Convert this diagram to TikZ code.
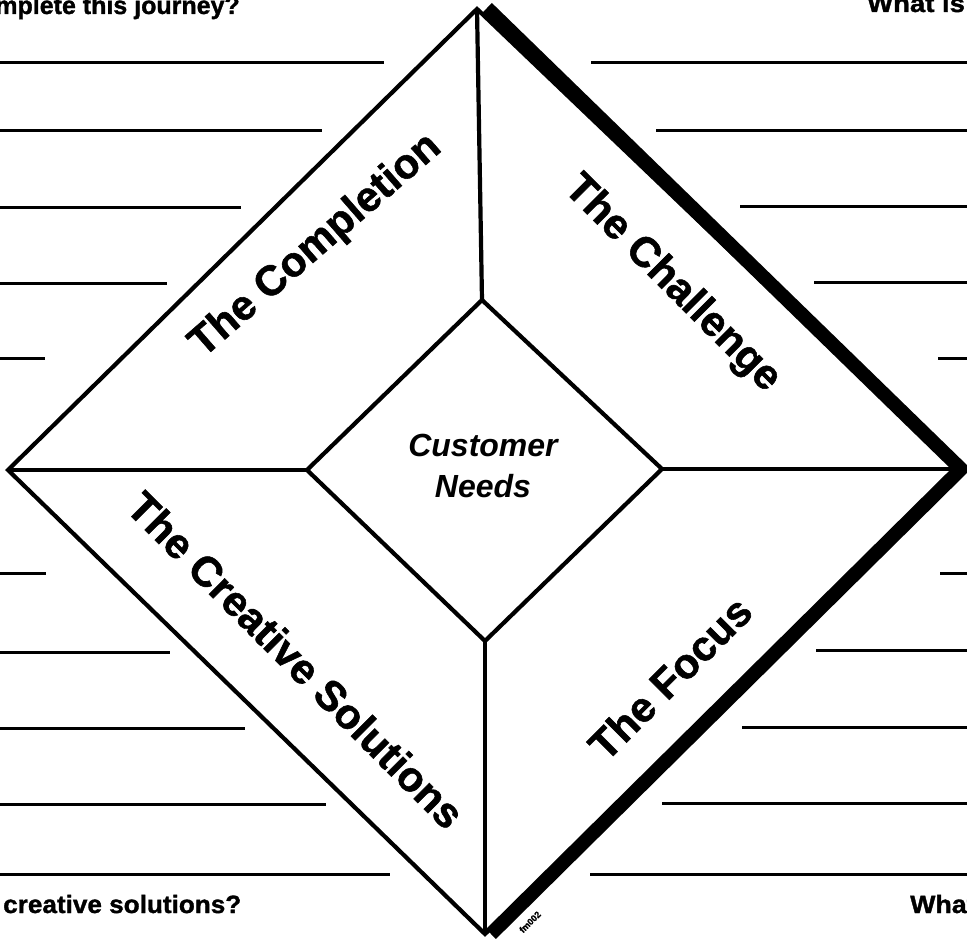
\documentclass[tikz,border=0pt]{standalone}
\usepackage{fontspec}
\usepackage{graphicx}
\setmainfont{Liberation Sans}
\newfontfamily\heavyfont[BoldFeatures={FakeBold=1.3}]{Liberation Sans}
\begin{document}
\begin{tikzpicture}[x=1pt,y=-1pt,
  thinedge/.style={line width=4.2pt, line join=miter},
  heavyedge/.style={line width=14pt, line join=miter},
  wline/.style={line width=3pt},
  quad/.style={font=\heavyfont\bfseries\fontsize{42}{42}\selectfont, inner sep=0pt},
  question/.style={font=\heavyfont\bfseries\fontsize{25}{25}\selectfont, inner sep=0pt},
]
\useasboundingbox (0,0) rectangle (967,941);
% outer diamond
\coordinate (OT) at (477,9);
\coordinate (OR) at (958,469);
\coordinate (OB) at (485,934);
\coordinate (OL) at (8,470);
% heavy shadow edge
\coordinate (HT) at (487,8);
\coordinate (HR) at (961,469);
\coordinate (HB) at (491,934);
% inner diamond
\coordinate (IT) at (482,300);
\coordinate (IR) at (662,469);
\coordinate (IB) at (485,641);
\coordinate (IL) at (307,470);

\draw[heavyedge] (HT) -- (HR) -- (HB);
\draw[thinedge] (OT) -- (OR) -- (OB) -- (OL) -- cycle;
\draw[thinedge] (IT) -- (IR) -- (IB) -- (IL) -- cycle;
\draw[thinedge] (OT) -- (IT);
\draw[thinedge] (OB) -- (IB);
\draw[thinedge] (OL) -- (IL);
\draw[thinedge] (OR) -- (IR);

% writing lines, left
\foreach \y/\x in {63/384,131/322,208/241,284/167,359/45,573/46,652/170,728/245,804/326,874/390}
  \draw[wline] (0,\y) -- (\x,\y);
% writing lines, right
\foreach \y/\x in {63/591,131/656,207/740,283/814,359/938,573/940,650/816,727/742,803/662,874/590}
  \draw[wline] (\x,\y) -- (967,\y);

% quadrant labels
\node[quad, rotate=41] (completion) at (316,246) {The Completion};
\node[quad, rotate=-45] (challenge) at (672,284) {The Challenge};
\node[quad, rotate=-45] (creative) at (296,660) {The Creative Solutions};
\node[quad, rotate=45] (focus) at (670,678) {The Focus};
\node[font=\heavyfont\bfseries\itshape\fontsize{32}{41}\selectfont, align=center, inner sep=0pt] (needs) at (483,466) {Customer\\Needs};

% questions (cut by the page edge)
\node[question, anchor=base east] (q1) at (240,14) {mplete this journey?};
\node[question, anchor=base west] (q2) at (867,12) {\scalebox{1.1}[1]{What is}};
\node[question, anchor=base west] (q3) at (3,913) {\scalebox{1.045}[1]{creative solutions?}};
\node[question, anchor=base west] (q4) at (910,913) {\scalebox{1.07}[1]{What}};

\node[font=\heavyfont\bfseries\fontsize{9}{9}\selectfont, rotate=45, inner sep=0pt] (code) at (530,922) {fm002};
\end{tikzpicture}
\end{document}
